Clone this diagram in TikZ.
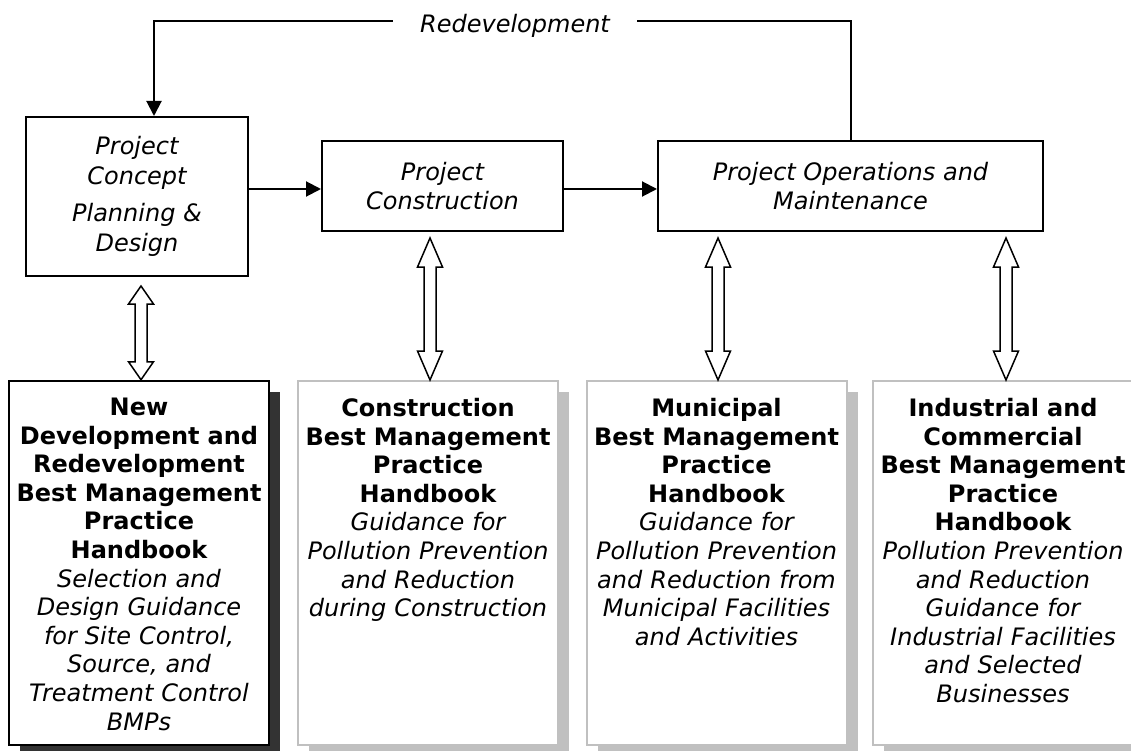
\documentclass[tikz,border=0pt]{standalone}
\usepackage{fontspec}
\setmainfont{DejaVu Sans}
\usetikzlibrary{arrows.meta,calc}
\definecolor{bookgray}{HTML}{C0C0C0}
\definecolor{darkshadow}{HTML}{333333}
\newcommand\dblarrow[3]{%
  \draw[hollow] (#1) -- ++(12.5,#3) -- ++(-6.5,0) -- ($(#2)+(6,-#3)$) -- ++(6.5,0)
    -- (#2) -- ++(-12.5,-#3) -- ++(6.5,0) -- ($(#1)+(-6,#3)$) -- ++(-6.5,0) -- cycle;}
\begin{document}
\begin{tikzpicture}[x=1pt,y=-1pt,
  topbox/.style={draw=black, line width=2pt, inner sep=0pt, align=center,
    font=\fontsize{24}{29.5}\selectfont\itshape},
  book/.style={draw=bookgray, line width=2pt, fill=white, minimum width=260pt,
    minimum height=364pt, inner sep=0pt},
  mainbook/.style={book, draw=black, line width=2.5pt},
  shade/.style={draw=none, minimum width=260pt, minimum height=364pt, inner sep=0pt},
  booktext/.style={anchor=north, text width=256pt, align=center, inner sep=0pt,
    font=\fontsize{24}{28.6}\selectfont},
  flow/.style={line width=2pt, -{Triangle[length=15pt,width=15pt]}},
  hollow/.style={draw=black, line width=1.5pt, fill=white, line join=miter},
  lbl/.style={font=\fontsize{24}{29}\selectfont\itshape, fill=white, inner xsep=27pt, inner ysep=2pt}
]
\useasboundingbox (0,0) rectangle (1131,751);
\fill[white] (0,0) rectangle (1131,751);

% process boxes
\node[topbox, minimum width=222pt, minimum height=159pt] (concept) at (137,196.5)
  {Project\\Concept\\[8pt]Planning \&\\Design};
\node[topbox, minimum width=241pt, minimum height=90pt] (constr) at (442.5,186)
  {Project\\Construction};
\node[topbox, minimum width=385pt, minimum height=90pt] (ops) at (850.5,186)
  {Project Operations and\\Maintenance};

% redevelopment loop
\coordinate (topR) at (850.5,21);
\coordinate (topL) at (154,21);
\draw[flow] (ops.north) -- (topR) -- (topL) -- (topL |- concept.north);
\node[lbl] (redev) at (515,25.5) {Redevelopment};

% flow arrows
\coordinate (fy) at (0,189);
\draw[flow] (concept.east |- fy) -- (constr.west |- fy);
\draw[flow] (constr.east |- fy) -- (ops.west |- fy);

% handbooks: shadows
\node[shade, fill=darkshadow] (shA) at (150,574) {};
\node[shade, fill=bookgray] (shB) at (439,574) {};
\node[shade, fill=bookgray] (shC) at (727.5,574) {};
\node[shade, fill=bookgray] (shD) at (1014,574) {};
% handbooks
\node[mainbook] (bkA) at (139,563) {};
\node[book] (bkB) at (428,563) {};
\node[book] (bkC) at (716.5,563) {};
\node[book] (bkD) at (1003,563) {};

\node[booktext] (tA) at ($(bkA.north)+(0,18)$) {\bfseries New\\Development and\\Redevelopment\\Best Management\\Practice\\Handbook\\
  \mdseries\itshape Selection and\\Design Guidance\\for Site Control,\\Source, and\\Treatment Control\\BMPs};
\node[booktext] (tB) at ($(bkB.north)+(0,18)$) {\bfseries Construction\\Best Management\\Practice\\Handbook\\
  \mdseries\itshape Guidance for\\Pollution Prevention\\and Reduction\\during Construction};
\node[booktext] (tC) at ($(bkC.north)+(0,18)$) {\bfseries Municipal\\Best Management\\Practice\\Handbook\\
  \mdseries\itshape Guidance for\\Pollution Prevention\\and Reduction from\\Municipal Facilities\\and Activities};
\node[booktext] (tD) at ($(bkD.north)+(0,18)$) {\bfseries Industrial and\\Commercial\\Best Management\\Practice\\Handbook\\
  \mdseries\itshape Pollution Prevention\\and Reduction\\Guidance for\\Industrial Facilities\\and Selected\\Businesses};

% double arrows
\coordinate (d1t) at ($(concept.south)+(4,9)$);
\coordinate (d1b) at (d1t |- bkA.north);
\dblarrow{d1t}{d1b}{18}
\coordinate (d2t) at ($(constr.south)+(-12.5,6)$);
\coordinate (d2b) at (d2t |- bkB.north);
\dblarrow{d2t}{d2b}{29}
\coordinate (d3t) at ($(ops.south)+(-132.5,6)$);
\coordinate (d3b) at (d3t |- bkC.north);
\dblarrow{d3t}{d3b}{29}
\coordinate (d4t) at ($(ops.south)+(155.5,6)$);
\coordinate (d4b) at (d4t |- bkD.north);
\dblarrow{d4t}{d4b}{29}
\end{tikzpicture}
\end{document}
